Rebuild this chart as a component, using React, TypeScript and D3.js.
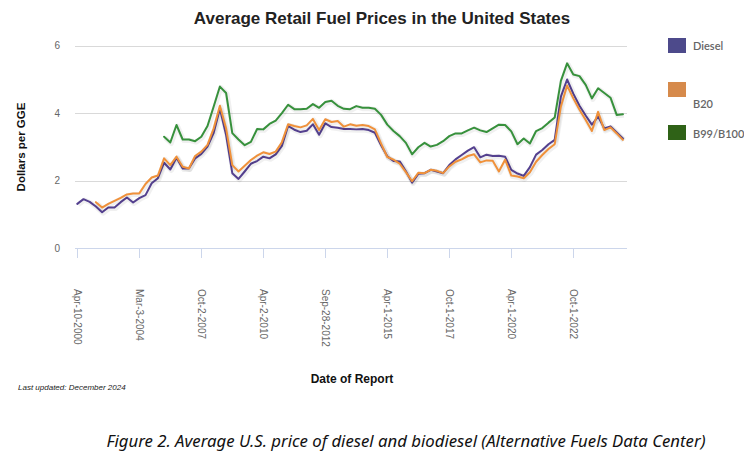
import React from "react";
import * as d3 from "d3";

const tickLabels = ["Apr-10-2000", "Mar-3-2004", "Oct-2-2007", "Apr-2-2010", "Sep-28-2012", "Apr-1-2015", "Oct-1-2017", "Apr-1-2020", "Oct-1-2022"];
const tickStep = 10;
const yTicks = [0, 2, 4, 6];

const diesel: (number | null)[] = [
  1.31, 1.45, 1.37, 1.23, 1.06, 1.2, 1.2, 1.36, 1.5, 1.35,
  1.48, 1.57, 1.92, 2.07, 2.53, 2.33, 2.68, 2.36, 2.36, 2.66,
  2.79, 3.01, 3.42, 4.13, 3.35, 2.22, 2.05, 2.27, 2.5, 2.58,
  2.71, 2.66, 2.78, 3.03, 3.62, 3.51, 3.44, 3.48, 3.67, 3.36,
  3.7, 3.59, 3.57, 3.53, 3.53, 3.52, 3.53, 3.5, 3.42, 3.05,
  2.72, 2.58, 2.57, 2.28, 1.94, 2.2, 2.22, 2.32, 2.27, 2.22,
  2.46, 2.63, 2.76, 2.89, 2.99, 2.69, 2.77, 2.73, 2.74, 2.71,
  2.32, 2.21, 2.14, 2.4, 2.77, 2.91, 3.08, 3.21, 4.49, 5.0,
  4.58, 4.22, 3.93, 3.66, 3.9, 3.55, 3.61, 3.43, 3.25,
];

const b20: (number | null)[] = [
  null, null, null, 1.36, 1.2, 1.31, 1.4, 1.49, 1.59, 1.62,
  1.62, 1.9, 2.09, 2.15, 2.66, 2.46, 2.71, 2.41, 2.36, 2.73,
  2.86, 3.06, 3.55, 4.22, 3.55, 2.46, 2.27, 2.44, 2.61, 2.74,
  2.84, 2.79, 2.86, 3.14, 3.67, 3.62, 3.58, 3.64, 3.83, 3.5,
  3.82, 3.74, 3.77, 3.6, 3.67, 3.63, 3.65, 3.62, 3.52, 3.1,
  2.7, 2.62, 2.5, 2.25, 1.98, 2.23, 2.22, 2.32, 2.29, 2.22,
  2.42, 2.56, 2.63, 2.73, 2.78, 2.54, 2.6, 2.59, 2.27, 2.62,
  2.15, 2.12, 2.07, 2.25, 2.56, 2.76, 2.94, 3.08, 4.2, 4.82,
  4.44, 4.1, 3.8, 3.47, 4.04, 3.5, 3.58, 3.4, 3.21,
];

const b100: (number | null)[] = [
  null, null, null, null, null, null, null, null, null, null,
  null, null, null, null, 3.3, 3.13, 3.65, 3.22, 3.22, 3.17,
  3.3, 3.62, 4.2, 4.79, 4.6, 3.41, 3.22, 3.05, 3.15, 3.53,
  3.52, 3.68, 3.78, 4.0, 4.25, 4.12, 4.12, 4.13, 4.27, 4.16,
  4.33, 4.37, 4.22, 4.13, 4.12, 4.21, 4.16, 4.16, 4.13, 3.95,
  3.66, 3.47, 3.32, 3.12, 2.78, 2.99, 3.12, 3.01, 3.06, 3.17,
  3.32, 3.4, 3.4, 3.49, 3.57, 3.49, 3.44, 3.55, 3.66, 3.65,
  3.46, 3.08, 3.25, 3.1, 3.47, 3.56, 3.72, 3.87, 4.96, 5.48,
  5.15, 5.1, 4.84, 4.44, 4.74, 4.6, 4.46, 3.95, 3.97,
];

const seriesNames = ["Diesel", "B20", "B99/B100"];
const seriesData = [diesel, b20, b100];
const lineColors = ["#54408f", "#f0913a", "#37913c"];
const legendColors = ["#4d4a8b", "#d68a4b", "#2f6217"];

export default function App() {
  const W = 744, H = 475;
  const n = diesel.length;
  const x = d3.scaleLinear().domain([0, n - 1]).range([77.3, 622.9]);
  const y = d3.scaleLinear().domain([0, 6]).range([248, 45.8]);
  const line = d3
    .line<number | null>()
    .defined((d) => d != null)
    .x((_, i) => x(i))
    .y((d) => y(d as number));

  const font = "'Liberation Sans', Arial, sans-serif";
  const legendY = [38, 82, 125];
  const legendTextY = [50, 108, 138];

  return (
    <svg width={W} height={H} style={{ position: "absolute", left: 0, top: 0, background: "#fff" }} fontFamily={font}>
      <rect width={W} height={H} fill="#fff" />
      <text x={382} y={24} textAnchor="middle" fontSize={17} fontWeight="bold" fill="#222">
        Average Retail Fuel Prices in the United States
      </text>
      {yTicks.filter((t) => t > 0).map((t) => (
        <line key={t} x1={75} x2={627} y1={Math.round(y(t)) + 0.5} y2={Math.round(y(t)) + 0.5} stroke="#d9d9d9" strokeWidth={1} />
      ))}
      {yTicks.map((t) => (
        <text key={t} x={60} y={y(t)} dy="0.35em" textAnchor="end" fontSize={10} fill="#666">
          {t}
        </text>
      ))}
      <text transform={`translate(25,147) rotate(-90)`} textAnchor="middle" fontSize={11.5} fontWeight="bold" fill="#111">
        Dollars per GGE
      </text>
      <line x1={75} x2={627} y1={248.5} y2={248.5} stroke="#ccd6eb" strokeWidth={1} />
      {tickLabels.map((lab, k) => {
        const xi = Math.round(x(k * tickStep)) + 0.5;
        return (
          <g key={lab}>
            <line x1={xi} x2={xi} y1={248.5} y2={258} stroke="#ccd6eb" strokeWidth={1} />
            <text transform={`translate(${xi},289) rotate(90)`} dy="0.35em" textAnchor="start" fontSize={10} fill="#666">
              {lab}
            </text>
          </g>
        );
      })}
      {seriesData.map((s, k) => (
        <g key={seriesNames[k]}>
          <path d={line(s) || ""} fill="none" stroke="#000" strokeOpacity={0.06} strokeWidth={5} strokeLinejoin="round" transform="translate(1,1)" />
          <path d={line(s) || ""} fill="none" stroke={lineColors[k]} strokeWidth={2} strokeLinejoin="round" strokeLinecap="round" />
        </g>
      ))}
      {seriesNames.map((name, k) => (
        <g key={name}>
          <rect x={668} y={legendY[k]} width={18} height={15} fill={legendColors[k]} />
          <text x={693} y={legendTextY[k]} fontSize={11} fontWeight={600} fill="#666" fontFamily="Lato, 'Liberation Sans', sans-serif">
            {name}
          </text>
        </g>
      ))}
      <text x={352} y={383} textAnchor="middle" fontSize={12} fontWeight="bold" fill="#111">
        Date of Report
      </text>
      <text x={18} y={390} fontSize={8} fontStyle="italic" fill="#222">
        Last updated: December 2024
      </text>
      <text x={406} y={447} textAnchor="middle" fontSize={15.5} fontStyle="italic" fill="#111" fontFamily="'Noto Sans', 'Open Sans', sans-serif" textLength={599} lengthAdjust="spacingAndGlyphs">
        Figure 2. Average U.S. price of diesel and biodiesel (Alternative Fuels Data Center)
      </text>
    </svg>
  );
}
